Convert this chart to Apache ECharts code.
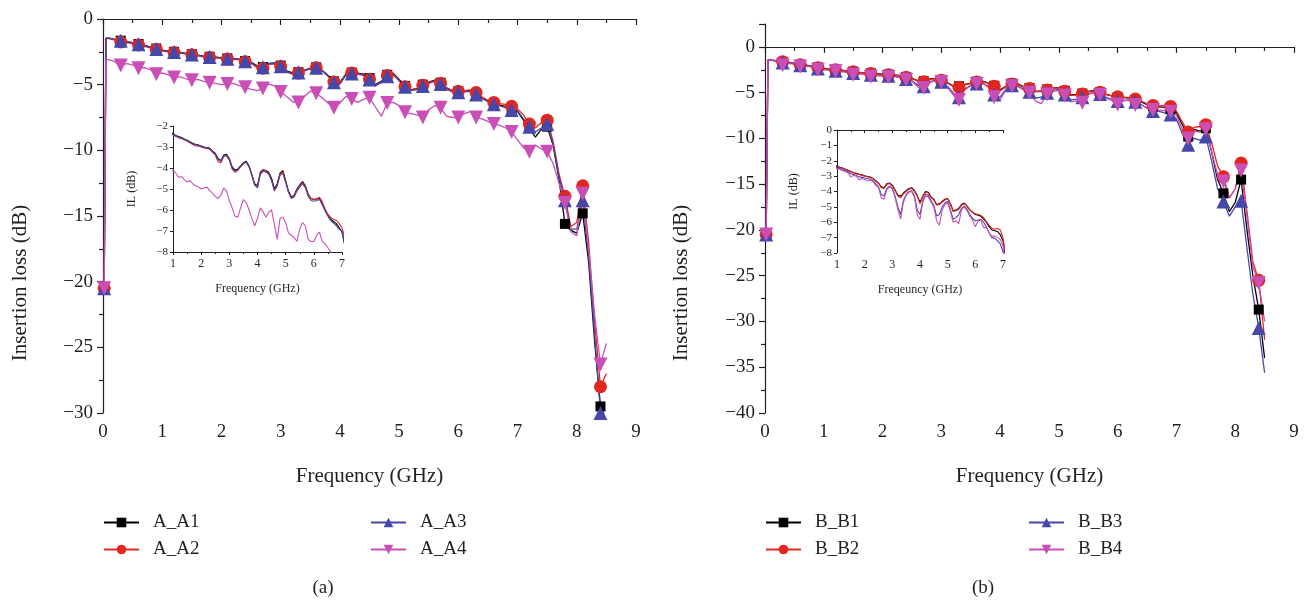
<!DOCTYPE html>
<html><head><meta charset="utf-8">
<script src="https://cdn.jsdelivr.net/npm/echarts@6/dist/echarts.min.js"></script>
<style>html,body{margin:0;padding:0;background:#fff}#c{width:1308px;height:600px}</style>
</head><body><div id="c"></div>
<script>
// x sampling grid (GHz): two start points then every 0.1 GHz
const FREQ = [0.02, 0.05];
for (let k = 1; k <= 85; k++) FREQ.push(+(k * 0.1).toFixed(1));

const A_A1 = [-20.5,-1.45,
-1.45,-1.55,-1.65,-1.72,-1.8,-1.9,-2.0,-2.12,-2.25,-2.37,
-2.45,-2.5,-2.55,-2.62,-2.68,-2.75,-2.82,-2.88,-2.9,-2.95,
-3.0,-3.02,-3.05,-3.2,-3.3,-3.55,-3.65,-3.38,-3.35,-3.55,
-3.95,-4.1,-4.05,-3.9,-3.75,-3.68,-3.9,-4.3,-4.75,-4.85,
-4.2,-4.08,-4.12,-4.2,-4.5,-5.0,-4.75,-4.25,-4.12,-4.6,
-5.1,-5.38,-5.3,-5.0,-4.8,-4.65,-4.85,-5.25,-5.45,-5.5,
-5.48,-5.45,-5.7,-6.0,-6.25,-6.45,-6.55,-6.65,-6.85,-7.05,
-7.7,-8.3,-9.0,-8.4,-8.2,-9.6,-12.2,-15.6,-16.1,-16.3,
-14.8,-18.5,-24.5,-29.5,-30.5];
const A_A2 = [-20.5,-1.5,
-1.5,-1.6,-1.75,-1.8,-1.88,-1.98,-2.08,-2.2,-2.32,-2.42,
-2.5,-2.56,-2.6,-2.66,-2.72,-2.8,-2.88,-2.94,-2.96,-3.0,
-3.05,-3.07,-3.1,-3.25,-3.38,-3.7,-3.75,-3.45,-3.42,-3.62,
-4.05,-4.2,-4.12,-3.95,-3.8,-3.72,-3.95,-4.35,-4.8,-4.9,
-4.25,-4.12,-4.15,-4.25,-4.6,-5.1,-4.8,-4.3,-4.18,-4.65,
-5.15,-5.42,-5.32,-5.05,-4.85,-4.7,-4.9,-5.28,-5.45,-5.5,
-5.45,-5.4,-5.6,-5.95,-6.2,-6.35,-6.45,-6.5,-6.65,-6.85,
-7.3,-8.0,-8.3,-7.9,-7.7,-9.3,-11.8,-13.5,-15.8,-15.5,
-12.7,-17.0,-23.0,-28.0,-27.0];
const A_A3 = [-20.5,-1.45,
-1.45,-1.55,-1.65,-1.74,-1.82,-1.92,-2.02,-2.15,-2.28,-2.4,
-2.47,-2.52,-2.57,-2.64,-2.7,-2.77,-2.84,-2.9,-2.92,-2.97,
-3.02,-3.04,-3.08,-3.22,-3.32,-3.6,-3.68,-3.42,-3.38,-3.6,
-4.0,-4.15,-4.08,-3.92,-3.78,-3.72,-3.95,-4.35,-4.82,-4.95,
-4.3,-4.15,-4.2,-4.3,-4.6,-5.05,-4.85,-4.35,-4.25,-4.7,
-5.15,-5.45,-5.38,-5.1,-4.9,-4.75,-4.95,-5.35,-5.55,-5.58,
-5.55,-5.5,-5.75,-6.05,-6.3,-6.5,-6.62,-6.75,-6.92,-7.0,
-7.6,-8.2,-8.6,-8.3,-8.0,-9.5,-12.0,-13.8,-16.0,-16.0,
-13.8,-18.0,-24.0,-30.0,-31.0];
const A_A4 = [-20.5,-3.1,
-3.1,-3.25,-3.55,-3.4,-3.5,-3.75,-3.7,-3.85,-4.2,-4.1,
-4.25,-4.45,-4.4,-4.55,-4.67,-4.6,-4.75,-4.85,-4.9,-5.0,
-4.95,-4.9,-5.08,-5.2,-5.35,-5.45,-5.3,-4.95,-5.1,-5.55,
-5.9,-6.3,-6.35,-5.9,-5.5,-5.65,-6.0,-6.4,-6.75,-6.4,
-5.9,-6.1,-6.35,-6.1,-6.0,-6.7,-7.4,-6.4,-6.35,-6.6,
-7.1,-7.2,-7.3,-7.5,-6.9,-6.6,-6.75,-7.4,-7.5,-7.5,
-7.2,-7.05,-7.5,-7.6,-7.8,-8.0,-8.1,-8.3,-8.6,-9.2,
-9.8,-10.1,-9.6,-9.9,-10.1,-11.0,-12.5,-14.0,-16.2,-16.5,
-13.3,-17.5,-22.5,-26.3,-24.7];

const B_B1 = [-20.5,-1.45,
-1.45,-1.5,-1.65,-1.7,-1.8,-1.95,-2.0,-2.1,-2.25,-2.35,
-2.42,-2.48,-2.55,-2.62,-2.7,-2.78,-2.82,-2.88,-2.92,-2.98,
-3.02,-3.06,-3.15,-3.3,-3.45,-3.7,-3.75,-3.5,-3.45,-3.6,
-3.9,-4.25,-4.3,-4.1,-3.95,-3.8,-3.75,-3.95,-4.25,-4.7,
-4.3,-4.0,-4.05,-4.35,-4.5,-4.85,-4.8,-4.65,-4.5,-4.45,
-4.8,-5.25,-5.2,-5.1,-4.85,-4.75,-4.95,-5.2,-5.35,-5.5,
-5.55,-5.6,-5.8,-6.0,-6.3,-6.5,-6.55,-6.6,-6.8,-7.2,
-8.5,-9.8,-9.0,-9.2,-8.9,-11.5,-14.5,-16.0,-18.0,-17.0,
-14.5,-20.0,-25.0,-28.7,-34.0];
const B_B2 = [-20.5,-1.45,
-1.45,-1.52,-1.62,-1.7,-1.82,-1.95,-2.02,-2.12,-2.27,-2.38,
-2.44,-2.5,-2.57,-2.64,-2.72,-2.8,-2.85,-2.9,-2.95,-3.0,
-3.04,-3.08,-3.18,-3.32,-3.48,-3.75,-3.8,-3.55,-3.48,-3.65,
-3.95,-4.3,-4.4,-4.15,-4.0,-3.85,-3.8,-4.0,-4.3,-4.8,
-4.35,-4.05,-4.1,-4.4,-4.55,-4.9,-4.85,-4.7,-4.55,-4.45,
-4.85,-5.3,-5.25,-5.15,-4.9,-4.8,-4.95,-5.2,-5.35,-5.45,
-5.5,-5.55,-5.7,-5.95,-6.2,-6.4,-6.45,-6.4,-6.5,-7.0,
-8.2,-9.3,-8.8,-8.7,-8.5,-10.5,-13.0,-14.2,-16.5,-15.5,
-12.7,-18.0,-23.5,-25.5,-32.0];
const B_B3 = [-20.5,-1.45,
-1.45,-1.55,-1.7,-1.75,-1.85,-2.0,-2.05,-2.15,-2.35,-2.45,
-2.5,-2.6,-2.65,-2.72,-2.85,-2.9,-2.95,-3.05,-3.08,-3.12,
-3.15,-3.2,-3.3,-3.5,-3.7,-4.2,-4.3,-3.8,-3.65,-3.8,
-4.3,-5.0,-5.5,-4.6,-4.2,-4.0,-3.95,-4.3,-5.2,-5.5,
-4.6,-4.2,-4.25,-4.6,-4.9,-5.6,-5.5,-5.0,-4.75,-4.65,
-5.2,-5.8,-5.7,-5.5,-5.1,-4.95,-5.15,-5.5,-5.75,-5.9,
-5.85,-5.8,-6.0,-6.3,-6.7,-7.0,-7.05,-7.2,-7.4,-7.9,
-9.5,-10.7,-10.0,-10.2,-9.8,-12.5,-15.5,-16.9,-18.5,-17.5,
-16.8,-22.0,-27.0,-30.7,-35.6];
const B_B4 = [-20.5,-1.45,
-1.45,-1.6,-2.0,-1.8,-1.9,-2.15,-2.1,-2.2,-2.5,-2.5,
-2.55,-2.65,-2.7,-2.8,-3.05,-2.95,-3.0,-3.25,-3.15,-3.2,
-3.3,-3.25,-3.35,-3.6,-3.75,-4.4,-4.5,-3.9,-3.7,-3.85,
-4.4,-5.2,-5.8,-4.7,-4.25,-4.05,-4.0,-4.4,-5.5,-5.8,
-4.7,-4.3,-4.35,-4.7,-5.0,-5.9,-6.2,-5.2,-4.85,-4.75,
-5.3,-6.0,-5.9,-6.1,-5.2,-5.0,-5.25,-5.6,-5.85,-6.3,
-5.9,-5.85,-6.35,-6.35,-6.7,-6.9,-6.9,-7.0,-7.1,-7.5,
-9.0,-10.0,-9.2,-9.3,-9.0,-11.5,-14.0,-14.7,-16.5,-15.5,
-13.5,-18.5,-24.0,-25.8,-30.0];

const X_TICKS = [0,1,2,3,4,5,6,7,8,9];
const NAMES_A = ['A_A1','A_A2','A_A3','A_A4'];
const NAMES_B = ['B_B1','B_B2','B_B3','B_B4'];

const COLORS = ['#000000', '#e3261f', '#4547a9', '#c94fb7'];
const SYMBOLS = ['rect', 'circle', 'triangle', 'triangle'];
const SIZES = [10, 13, 14, 14];
const ROTS = [0, 0, 0, 180];
const SERIF = '"Liberation Serif", "DejaVu Serif", serif';
const INK = '#231f20';

function isMarker(i) { return i === 0 || (i >= 2 && (i - 1) % 3 === 0); }

function mainSeries(name, vals, s, gi) {
  return {
    name, type: 'line', xAxisIndex: gi, yAxisIndex: gi,
    symbol: SYMBOLS[s], symbolSize: SIZES[s], symbolRotate: ROTS[s],
    showAllSymbol: true, animation: false,
    lineStyle: { color: COLORS[s], width: 1.3 },
    itemStyle: { color: COLORS[s] },
    emphasis: { disabled: true },
    data: FREQ.map((f, i) => isMarker(i) ? { value: [f, vals[i]] } : { value: [f, vals[i]], symbol: 'none' })
  };
}
function insetSeries(name, vals, s, gi) {
  return {
    name, type: 'line', xAxisIndex: gi, yAxisIndex: gi, symbol: 'none', animation: false,
    lineStyle: { color: COLORS[s], width: 1.1 }, itemStyle: { color: COLORS[s] },
    emphasis: { disabled: true },
    data: FREQ.map((f, i) => [f, vals[i]])
  };
}

function mainX(gi) {
  return {
    type: 'value', gridIndex: gi, min: 0, max: 9, interval: 1,
    name: 'Frequency (GHz)', nameLocation: 'middle', nameGap: 53,
    nameTextStyle: { fontFamily: SERIF, fontSize: 21, color: INK },
    axisLine: { lineStyle: { color: INK, width: 1.2 } },
    axisTick: { length: 6, lineStyle: { color: INK, width: 1.2 } },
    minorTick: { show: true, splitNumber: 2, length: 4, lineStyle: { color: INK, width: 1.2 } },
    splitLine: { show: false },
    axisLabel: { fontFamily: SERIF, fontSize: 19, color: INK, margin: 10,
      formatter: v => X_TICKS.includes(v) ? String(v) : '' }
  };
}
function mainY(gi, min, max) {
  return {
    type: 'value', gridIndex: gi, min, max, interval: 5,
    axisLine: { onZero: false, lineStyle: { color: INK, width: 1.2 } },
    axisTick: { length: 6, lineStyle: { color: INK, width: 1.2 } },
    minorTick: { show: true, splitNumber: 2, length: 4, lineStyle: { color: INK, width: 1.2 } },
    splitLine: { show: false },
    axisLabel: { fontFamily: SERIF, fontSize: 19, color: INK, margin: 10, showMaxLabel: max === 0,
      formatter: v => (v % 5 === 0 ? String(v).replace('-', '\u2212') : '') }
  };
}
function insetX(gi, title) {
  return {
    type: 'value', gridIndex: gi, min: 1, max: 7, interval: 1,
    name: title, nameLocation: 'middle', nameGap: 31,
    nameTextStyle: { fontFamily: SERIF, fontSize: 12, color: INK },
    axisLine: { lineStyle: { color: INK, width: 1 } },
    axisTick: { length: 3, lineStyle: { color: INK } },
    minorTick: { show: true, splitNumber: 2, length: 2, lineStyle: { color: INK } },
    splitLine: { show: false },
    axisLabel: { fontFamily: SERIF, fontSize: 12, color: INK, margin: 6 }
  };
}
function insetY(gi, min, max, gap) {
  return {
    type: 'value', gridIndex: gi, min, max, interval: 1,
    name: 'IL (dB)', nameLocation: 'middle', nameGap: gap, nameRotate: 90,
    nameTextStyle: { fontFamily: SERIF, fontSize: 12, color: INK },
    axisLine: { onZero: false, lineStyle: { color: INK, width: 1 } },
    axisTick: { length: 3, lineStyle: { color: INK } },
    splitLine: { show: false },
    axisLabel: { fontFamily: SERIF, fontSize: 11, color: INK, margin: 5,
      formatter: v => String(v).replace('-', '\u2212') }
  };
}

function legend(names, left) {
  return {
    orient: 'vertical', left, top: 513, padding: 0, itemWidth: 35, itemHeight: 12, itemGap: 8,
    data: names, selectedMode: false,
    textStyle: { fontFamily: SERIF, fontSize: 19, color: INK, padding: [0, 0, 0, 9] }
  };
}

const ALL_A = [A_A1, A_A2, A_A3, A_A4];
const ALL_B = [B_B1, B_B2, B_B3, B_B4];

const series = [];
ALL_A.forEach((v, s) => series.push(mainSeries(NAMES_A[s], v, s, 0)));
ALL_B.forEach((v, s) => series.push(mainSeries(NAMES_B[s], v, s, 1)));
ALL_A.forEach((v, s) => series.push(insetSeries(NAMES_A[s], v, s, 2)));
ALL_B.forEach((v, s) => series.push(insetSeries(NAMES_B[s], v, s, 3)));

const chart = echarts.init(document.getElementById('c'), null, { renderer: 'canvas' });
chart.setOption({
  animation: false,
  backgroundColor: '#ffffff',
  grid: [
    { left: 103, top: 19, width: 533, height: 394 },
    { left: 765, top: 24, width: 529, height: 389 },
    { left: 173, top: 126, width: 169, height: 126 },
    { left: 837, top: 130, width: 166, height: 123 }
  ],
  xAxis: [mainX(0), mainX(1), insetX(2, 'Frequency (GHz)'), insetX(3, 'Freqeuncy (GHz)')],
  yAxis: [mainY(0, -30, 0), mainY(1, -40, 2.5), insetY(2, -8, -2, 35), insetY(3, -8, 0, 37)],
  legend: [
    legend(['A_A1', 'A_A2'], 103), legend(['A_A3', 'A_A4'], 370),
    legend(['B_B1', 'B_B2'], 765), legend(['B_B3', 'B_B4'], 1028)
  ],
  graphic: [
    { type: 'text', x: 20, y: 283, rotation: Math.PI / 2,
      style: { text: 'Insertion loss (dB)', font: '21px ' + SERIF, fill: INK, align: 'center', verticalAlign: 'middle' } },
    { type: 'text', x: 681, y: 283, rotation: Math.PI / 2,
      style: { text: 'Insertion loss (dB)', font: '21px ' + SERIF, fill: INK, align: 'center', verticalAlign: 'middle' } },
    { type: 'text', x: 323, y: 588,
      style: { text: '(a)', font: '19px ' + SERIF, fill: INK, align: 'center', verticalAlign: 'middle' } },
    { type: 'text', x: 983, y: 588,
      style: { text: '(b)', font: '19px ' + SERIF, fill: INK, align: 'center', verticalAlign: 'middle' } }
  ],
  series
});
</script>
</body></html>
